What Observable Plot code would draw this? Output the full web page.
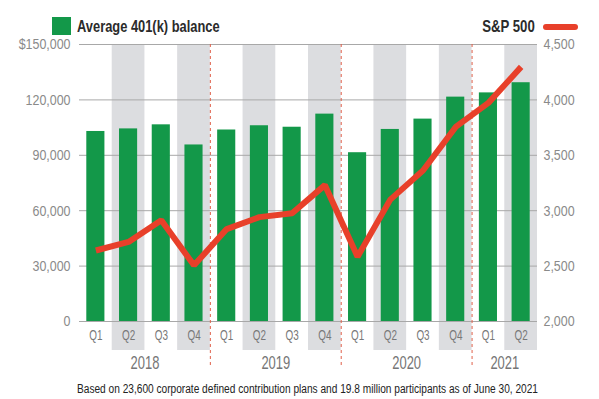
<!DOCTYPE html>
<html>
<head>
<meta charset="utf-8">
<script src="https://cdn.jsdelivr.net/npm/d3@7"></script>
<script src="https://cdn.jsdelivr.net/npm/@observablehq/plot@0.6"></script>
<style>
  html, body { margin: 0; padding: 0; background: #fff; }
  body { width: 599px; height: 399px; overflow: hidden; font-family: "Liberation Sans", Arial, sans-serif; }
  #legend { position: relative; height: 36px; }
  #legend .sw { position: absolute; left: 52px; top: 17px; width: 19px; height: 18px; background: #139849; }
  #legend .txt { position: absolute; top: 15px; font-size: 16.5px; font-weight: bold; color: #2b2b2b; line-height: 22px; white-space: nowrap; }
  #legend .l1 { left: 77px; transform: scaleX(0.78); transform-origin: left center; }
  #legend .l2 { right: 64px; transform: scaleX(0.8); transform-origin: right center; }
  #legend .ln { position: absolute; left: 543px; top: 24px; width: 35px; height: 6px; border-radius: 3px; background: #e8402a; }
  #chart svg { display: block; }
  #caption { position: relative; height: 22px; }
  #caption span { position: absolute; left: 77px; top: 2px; line-height: 20px; font-size: 12px; color: #222; white-space: nowrap; transform-origin: left center; }
</style>
</head>
<body>
<div id="legend">
  <div class="sw"></div><div class="txt l1">Average 401(k) balance</div>
  <div class="txt l2">S&amp;P 500</div><div class="ln"></div>
</div>
<div id="chart"></div>
<div id="caption"><span>Based on 23,600 corporate defined contribution plans and 19.8 million participants as of June 30, 2021</span></div>
<script>
// ---- data ----
const years    = ["2018","2018","2018","2018","2019","2019","2019","2019","2020","2020","2020","2020","2021","2021"];
const quarters = ["Q1","Q2","Q3","Q4","Q1","Q2","Q3","Q4","Q1","Q2","Q3","Q4","Q1","Q2"];
const balance  = [102900,104300,106500,95600,103700,106000,105200,112300,91400,104000,109600,121500,123800,129300];
const sp500    = [2641,2718,2914,2507,2834,2942,2977,3231,2585,3100,3363,3756,3973,4298];
const leftTicks  = [0,30000,60000,90000,120000,150000];
const rightTicks = [2000,2500,3000,3500,4000,4500];
const yearLabels = ["2018","2019","2020","2021"];

// ---- layout ----
const W = 599, H = 341, mL = 79, mR = 62, mT = 8, mB = 27;
const spBase = 2000, spFactor = 60; // maps S&P onto the balance scale
const data = quarters.map((q, i) => ({key: years[i] + q, year: years[i], q, bal: balance[i], sp: (sp500[i] - spBase) * spFactor, idx: i}));
const bw = (W - mL - mR) / data.length;

const fnt = "'Liberation Sans',Arial,sans-serif";

// year label anchors: the quarter just left of the middle of each year
const yearAnchor = yearLabels.map(y => {
  const ks = data.filter(d => d.year === y);
  return {year: y, key: ks[ks.length / 2 - 1].key};
});

const chart = Plot.plot({
  width: W, height: H,
  marginLeft: mL, marginRight: mR, marginTop: mT, marginBottom: mB,
  style: {fontFamily: fnt, background: "#fff", overflow: "visible"},
  x: {type: "band", domain: data.map(d => d.key), padding: 0, round: false, axis: null},
  y: {domain: [0, 150000], range: [285, 8], axis: null},
  marks: [
    Plot.cell(data.filter(d => d.idx % 2 === 1), {x: "key", fill: "#dcdde0", inset: 0}),
    Plot.ruleY(leftTicks, {stroke: "#a8a8a8", strokeWidth: 1}),
    Plot.ruleX(data.filter(d => d.q === "Q1" && d.idx > 0), {x: "key", dx: -bw / 2, stroke: "#e0604a", strokeWidth: 1, strokeDasharray: "3,3", insetBottom: -17}),
    Plot.barY(data, {x: "key", y: "bal", fill: "#139849", insetLeft: 7.3, insetRight: 7.3}),
    Plot.line(data, {x: "key", y: "sp", stroke: "#e8402a", strokeWidth: 6, strokeLinejoin: "miter", strokeLinecap: "butt"}),
    Plot.text(data, {x: "key", y: 0, text: "q", dy: 14, fontSize: 15.5, fill: "#787878"}),
    Plot.text(yearAnchor, {x: "key", y: 0, text: "year", dx: bw / 2, dy: 42, fontSize: 18, fill: "#767676"}),
    Plot.axisY({anchor: "left", ticks: leftTicks, tickSize: 0, tickPadding: 9, fontSize: 15, color: "#8a8a8a",
      tickFormat: d => (d === 150000 ? "$" : "") + d3.format(",")(d)}),
    Plot.axisY({anchor: "right", ticks: rightTicks.map(v => (v - spBase) * spFactor), tickSize: 0, tickPadding: 6, fontSize: 15, color: "#8a8a8a",
      tickFormat: d => d3.format(",")(d / spFactor + spBase)})
  ]
});
document.getElementById("chart").appendChild(chart);

// condense the text horizontally about its anchor (the original uses a condensed typeface)
chart.querySelectorAll("text").forEach(t => {
  const s = t.textContent.trim();
  const k = /^Q\d$/.test(s) ? 0.64 : yearLabels.includes(s) ? 0.72 : 0.83;
  const b = t.getBBox();
  const anchor = getComputedStyle(t).textAnchor;
  const ax = anchor === "end" ? b.x + b.width : anchor === "middle" ? b.x + b.width / 2 : b.x;
  const tr = t.getAttribute("transform") || "";
  t.setAttribute("transform", `${tr} translate(${ax},0) scale(${k},1) translate(${-ax},0)`);
});

// fit the caption to the width of the original
const cap = document.querySelector("#caption span");
cap.style.transform = `scaleX(${461 / cap.getBoundingClientRect().width})`;
</script>
</body>
</html>
